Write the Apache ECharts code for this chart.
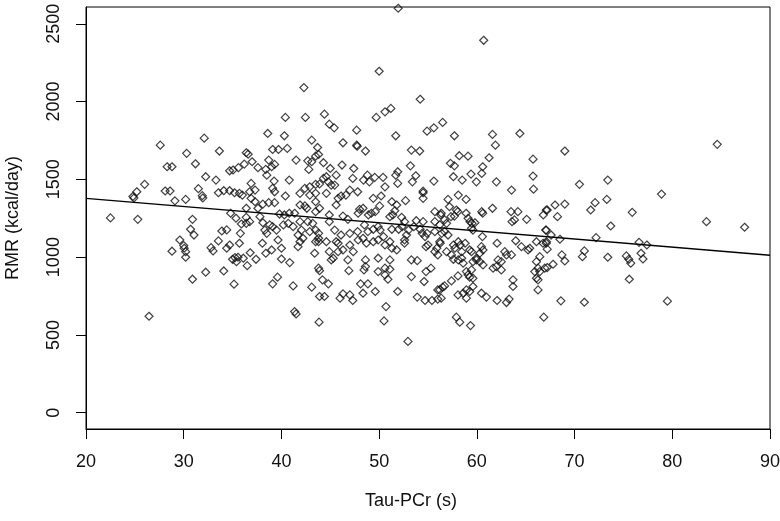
<!DOCTYPE html>
<html>
<head>
<meta charset="utf-8">
<title>RMR vs Tau-PCr</title>
<script src="https://cdn.jsdelivr.net/npm/echarts@6/dist/echarts.min.js"></script>
<style>
  html, body { margin: 0; padding: 0; background: #fff; }
  #chart { width: 780px; height: 521px; }
</style>
</head>
<body>
<div id="chart"></div>
<script>
  // values, x = Tau-PCr (s), y = RMR (kcal/day)
  const tauPcr = [
    27.6, 32.1, 30.3, 33.65, 28.3, 28.8, 31.2, 34.7, 35.05, 35.6, 32.25, 33.3, 26.0, 25.2, 28.1, 28.6, 31.5, 33.55, 34.1, 34.7, 35.2,
    24.8, 24.9, 29.1, 30.2, 31.9, 31.95, 22.5, 25.3, 30.9, 34.8, 35.35, 30.7, 31.05, 29.6, 30.0, 30.05, 30.2, 28.8, 30.2,
    33.9, 34.4, 33.55, 32.8, 33.0, 34.4, 35.0, 35.25, 30.9, 32.25, 34.1, 35.15, 26.45,
    42.3, 40.4, 42.45, 44.4, 44.9, 45.4, 38.6, 40.3, 43.1, 39.1, 39.7, 40.6, 43.7, 36.4, 36.6, 36.2, 37.0, 37.6, 38.4, 38.7,
    39.0, 39.3, 38.5, 41.5, 42.7, 43.1, 43.5, 43.8, 42.8, 44.3, 45.0, 45.6, 40.8, 39.25, 36.9, 42.9, 43.5, 44.3, 44.6, 44.8, 45.1,
    35.7, 36.0, 36.75, 37.3, 36.9, 37.3, 36.4, 37.6, 38.1, 38.7, 39.3, 39.1, 39.3, 40.4, 41.9, 42.4, 43.9, 45.45, 42.9, 43.5, 44.6,
    41.9, 42.4, 42.6, 43.5, 43.9, 43.5, 45.6, 44.9, 44.9, 36.4, 35.9, 36.4, 36.75, 37.8, 38.1, 38.8,
    38.3, 38.5, 39.1, 39.5, 40.2, 40.7, 41.2, 39.8, 40.3, 40.8, 41.35, 41.9, 42.05, 41.7, 41.9, 41.7, 35.8, 35.7,
    34.7, 35.55, 35.4, 36.1, 36.5, 37.4, 36.8, 38.05, 38.4, 39.0, 39.65, 40.0, 40.0, 40.85, 43.4,
    42.7, 43.2, 43.5, 43.8, 43.8, 43.8, 43.5, 42.9, 42.2, 44.6, 44.9, 45.1, 45.3, 45.6, 43.8, 43.9, 44.2, 44.8,
    39.1, 39.6, 41.2, 43.1, 43.9, 44.4, 41.35, 41.5, 43.85, 46.0,
    51.95, 50.0, 54.2, 49.7, 50.6, 51.2, 47.7, 46.3, 47.7, 47.75, 48.6, 51.7, 53.3, 54.15, 54.9, 55.6, 56.5, 46.2, 47.4, 47.3,
    48.4, 48.8, 49.0, 49.55, 50.4, 50.6, 51.7, 51.9, 51.9, 53.2, 53.75, 53.4, 55.6, 54.5,
    47.0, 47.8, 45.8, 46.1, 46.6, 49.4, 50.2, 51.3, 51.8, 51.6, 52.7, 54.5, 54.5, 50.05, 48.0, 48.35, 47.85, 48.9, 49.2, 49.6,
    46.3, 46.8, 51.1, 51.4, 52.3, 52.6, 53.8, 54.5, 55.7, 56.3, 55.7, 56.2,
    45.45, 46.1, 47.0, 47.8, 48.5, 48.85, 49.4, 49.9, 50.1, 50.45, 51.3, 52.0, 52.35, 53.0, 53.55, 54.2, 54.4, 54.9,
    55.7, 56.4, 56.25, 55.9, 55.0, 54.7, 45.8, 46.3, 45.8, 47.0, 47.35, 46.8, 46.9,
    47.85, 48.35, 48.7, 49.4, 49.9, 50.6, 51.1, 51.3, 51.8, 52.6, 52.8, 52.6,
    48.6, 49.9, 51.1, 48.6, 48.45, 49.9, 50.6, 51.1, 50.9, 50.6, 53.3, 53.9, 53.3, 54.8, 55.3, 54.6, 54.8, 55.7, 56.0,
    48.1, 48.85, 48.35, 49.6, 47.0, 46.3, 47.3, 51.9, 53.9, 54.7, 55.4, 56.0, 56.0, 56.5, 50.7, 50.5, 52.95,
    60.7, 57.7, 61.6, 61.9, 64.4, 58.2, 59.1, 61.25, 57.3, 57.7, 60.6, 60.5, 65.75, 57.6, 58.5, 59.4, 59.95, 62.0, 65.75,
    63.55, 65.8, 58.1, 58.9, 57.05, 57.2, 57.9, 58.05, 57.7, 57.35, 56.35, 56.7, 56.9, 58.9, 59.1, 59.5, 59.8, 59.3,
    60.5, 60.6, 61.6, 59.45, 59.6, 56.7, 57.05, 63.5, 64.2, 63.6, 63.85, 65.1, 66.8, 67.1, 67.05,
    56.2, 56.9, 57.4, 57.75, 57.6, 58.1, 58.3, 58.8, 58.45, 58.45, 58.6, 58.1, 57.6,
    59.27, 59.45, 59.96, 60.3, 60.47, 60.63, 60.57, 60.3, 60.63, 59.96, 59.6,
    62.07, 62.17, 62.5, 61.66, 62.0, 62.5, 62.86, 63.03, 63.54,
    63.98, 64.56, 65.24, 65.41, 66.1, 66.77, 67.12, 66.44, 66.1, 66.26, 65.93, 66.44, 66.1, 66.26, 66.95,
    58.93, 59.1, 59.45, 59.27, 59.6, 58.07, 57.4, 56.7, 56.2, 56.35, 59.6, 59.27, 58.93, 58.6, 58.07, 58.93,
    60.47, 60.98, 62.07, 63.03, 63.3, 63.7, 63.7, 66.26, 57.9, 58.25, 59.35, 66.85,
    69.0, 84.6, 70.5, 73.4, 78.9, 68.0, 69.0, 67.2, 68.25, 72.1, 71.65, 73.3, 75.9, 83.5, 87.4, 73.7,
    67.1, 67.6, 68.5, 72.2, 67.1, 67.2, 68.7, 69.0, 71.0, 70.8, 73.4, 75.3, 75.55, 75.75, 76.6, 77.4, 76.8, 77.0,
    67.2, 67.8, 75.6, 68.6, 71.0, 79.5
  ];
  const rmr = [
    1720, 1765, 1667, 1682, 1581, 1581, 1600, 1555, 1560, 1575, 1517, 1495, 1468, 1420, 1425, 1425, 1440, 1414, 1427, 1427, 1414,
    1390, 1380, 1362, 1371, 1395, 1380, 1252, 1243, 1243, 1282, 1250, 1179, 1142, 1110, 1074, 1057, 1035, 1038, 999,
    1168, 1175, 1104, 1061, 1040, 1057, 986, 997, 858, 903, 911, 826, 620,
    2090, 1898, 1898, 1919, 1855, 1831, 1795, 1780, 1752, 1692, 1692, 1699, 1705, 1671, 1662, 1598, 1613, 1575, 1564, 1624,
    1581, 1596, 1527, 1624, 1619, 1613, 1649, 1660, 1564, 1607, 1570, 1527, 1495, 1489, 1474, 1452, 1468, 1506, 1517, 1484, 1463,
    1410, 1399, 1420, 1431, 1378, 1356, 1314, 1314, 1341, 1350, 1350, 1442, 1420, 1393, 1410, 1442, 1470, 1463, 1399, 1410, 1410,
    1335, 1329, 1314, 1356, 1314, 1292, 1335, 1271, 1228, 1256, 1213, 1217, 1228, 1260, 1221, 1207,
    1174, 1153, 1196, 1174, 1207, 1217, 1196, 1277, 1271, 1282, 1282, 1228, 1174, 1142, 1099, 1067, 1153, 1089,
    1078, 999, 971, 993, 945, 986, 1028, 1089, 1025, 1046, 1110, 1057, 988, 965, 1025,
    1228, 1217, 1174, 1153, 1121, 1099, 1099, 1164, 1121, 1099, 1035, 982, 993, 1099, 929, 913, 854, 828,
    828, 871, 815, 807, 747, 747, 650, 635, 582, 736,
    2600, 2195, 2015, 1898, 1934, 1956, 1816, 1735, 1720, 1713, 1682, 1780, 1688, 1682, 1810, 1831, 1866, 1592, 1570, 1506,
    1495, 1527, 1484, 1513, 1513, 1452, 1527, 1549, 1474, 1587, 1523, 1484, 1489, 1424,
    1431, 1420, 1378, 1393, 1399, 1378, 1393, 1356, 1335, 1298, 1363, 1414, 1378, 1329, 1307, 1314, 1282, 1271, 1282, 1292,
    1264, 1243, 1260, 1271, 1256, 1228, 1234, 1228, 1292, 1271, 1228, 1207,
    1174, 1142, 1153, 1164, 1207, 1164, 1179, 1196, 1174, 1132, 1179, 1179, 1196, 1174, 1196, 1179, 1153, 1153,
    1164, 1153, 1089, 1057, 1078, 1132, 1089, 1046, 1035, 1078, 1035, 982, 913,
    1110, 1121, 1089, 1099, 1110, 1078, 1099, 1057, 1046, 1089, 1142, 1110,
    982, 993, 982, 939, 918, 907, 929, 922, 858, 886, 982, 977, 875, 907, 929, 843, 1067, 1035, 1014,
    828, 828, 768, 779, 757, 764, 721, 779, 743, 721, 721, 730, 789, 807, 682, 590, 458,
    2394, 1780, 1789, 1720, 1795, 1652, 1649, 1639, 1603, 1587, 1581, 1538, 1630, 1517, 1495, 1534, 1484, 1484, 1521,
    1431, 1437, 1399, 1371, 1371, 1324, 1303, 1292, 1264, 1260, 1282, 1239, 1217, 1282, 1250, 1217, 1221, 1228,
    1292, 1282, 1314, 1185, 1174, 1164, 1142, 1292, 1292, 1228, 1239, 1243, 1271, 1303, 1174,
    1099, 1035, 1014, 1057, 1078, 1099, 1078, 1089, 1035, 993, 961, 982, 986,
    1046, 1035, 993, 1025, 1067, 1046, 1132, 971, 950, 982, 971,
    1089, 982, 971, 929, 939, 918, 1035, 1014, 1014,
    1105, 1067, 1046, 1057, 1099, 1089, 1099, 1003, 971, 929, 907, 907, 864, 854, 929,
    907, 886, 918, 871, 864, 879, 847, 815, 789, 736, 811, 779, 789, 768, 757, 736,
    768, 743, 721, 708, 730, 854, 811, 789, 614, 582, 560, 614,
    1682, 1725, 1468, 1495, 1405, 1335, 1341, 1303, 1260, 1350, 1303, 1371, 1288, 1228, 1192, 1200,
    1174, 1142, 1115, 1125, 1089, 1051, 1014, 975, 1040, 1003, 999, 1008, 986, 961, 1095, 1078, 1025, 988,
    933, 954, 858, 719, 710, 717
  ];
  const xTicks = [20, 30, 40, 50, 60, 70, 80, 90];
  const yTicks = [0, 500, 1000, 1500, 2000, 2500];
  // fitted line end points
  const fitX = [20, 90];
  const fitY = [1378, 1012];

  const points = tauPcr.map((x, i) => [x, rmr[i]]);
  const fitLine = fitX.map((x, i) => [x, fitY[i]]);

  const font = "'Liberation Sans', Arial, sans-serif";

  const option = {
    animation: false,
    backgroundColor: '#fff',
    grid: {
      left: 86,
      right: 10,
      top: 7,
      bottom: 92,
      outerBoundsMode: 'none',
      containLabel: false,
      show: true,
      borderColor: '#000',
      borderWidth: 1
    },
    xAxis: {
      type: 'value',
      min: 20,
      max: 90,
      interval: 10,
      name: 'Tau-PCr (s)',
      nameLocation: 'middle',
      nameGap: 63,
      nameTextStyle: {fontFamily: font, fontSize: 18, color: '#111', padding: [0, 34, 0, 0]},
      axisLine: {show: true, onZero: false, lineStyle: {color: '#000', width: 1}},
      axisTick: {show: true, inside: false, length: 10, lineStyle: {color: '#000'}},
      axisLabel: {fontFamily: font, fontSize: 18, color: '#111', margin: 24,
        customValues: xTicks, formatter: v => String(v)},
      splitLine: {show: false}
    },
    yAxis: {
      type: 'value',
      min: -105,
      max: 2608,
      name: 'RMR (kcal/day)',
      nameLocation: 'middle',
      nameRotate: 90,
      nameGap: 64,
      nameTextStyle: {fontFamily: font, fontSize: 18, color: '#111'},
      axisLine: {show: true, onZero: false, lineStyle: {color: '#000', width: 1}},
      axisTick: {show: true, inside: false, length: 10, lineStyle: {color: '#000'},
        customValues: yTicks},
      axisLabel: {fontFamily: font, fontSize: 18, color: '#111', margin: 23, rotate: 90,
        customValues: yTicks, formatter: v => String(v)},
      splitLine: {show: false}
    },
    series: [
      {
        type: 'scatter',
        data: points,
        symbol: 'diamond',
        symbolSize: 8,
        itemStyle: {color: 'rgba(0,0,0,0)', borderColor: '#111', borderWidth: 1.2},
        silent: true
      },
      {
        type: 'line',
        data: fitLine,
        symbol: 'none',
        lineStyle: {color: '#000', width: 1.4},
        silent: true
      }
    ]
  };

  echarts.init(document.getElementById('chart')).setOption(option);
</script>
</body>
</html>
